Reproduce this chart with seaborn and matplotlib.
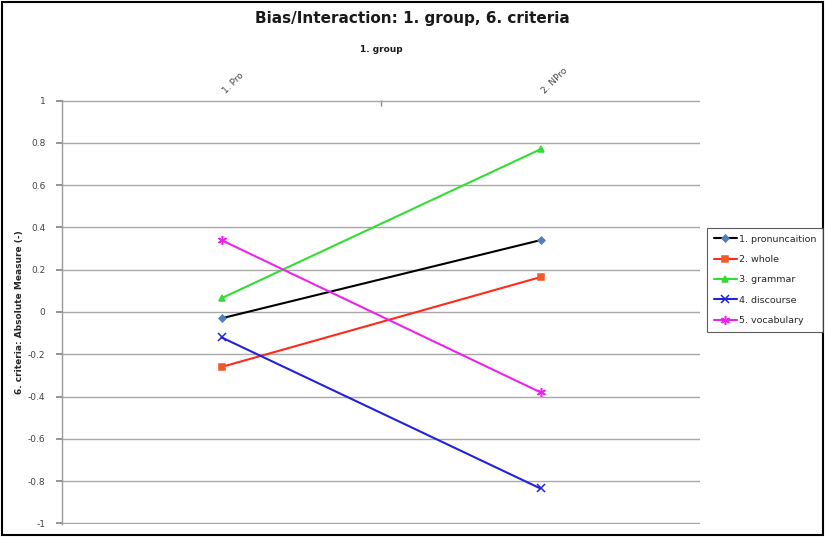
import matplotlib
matplotlib.use("Agg")
import matplotlib.pyplot as plt
import seaborn as sns
import pandas as pd
from matplotlib.patches import Rectangle

# Bias/interaction estimates per rating criterion for each group
groups = ["1. Pro", "2. NPro"]
criteria = ["1. pronuncaition", "2. whole", "3. grammar", "4. discourse", "5. vocabulary"]
pronunciation = [-0.03, 0.34]
whole = [-0.26, 0.165]
grammar = [0.065, 0.77]
discourse = [-0.12, -0.835]
vocabulary = [0.34, -0.38]

series = [pronunciation, whole, grammar, discourse, vocabulary]
rows = []
for name, vals in zip(criteria, series):
    for g, v in zip(groups, vals):
        rows.append({"group": g, "criterion": name, "value": v})
df = pd.DataFrame(rows)

line_colors = ["#000000", "#FF2A1A", "#33DD33", "#2222DD", "#EE22EE"]
marker_faces = ["#4F7FBF", "#F05A28", "#33DD33", "#2222DD", "#EE22EE"]
markers = ["D", "s", "^", "x", (6, 2, 0)]
msizes = [3.5, 5, 5, 6, 6.5]

sns.set_theme(style="white")
plt.rcParams["font.family"] = ["DejaVu Sans"]

fig = plt.figure(figsize=(8.25, 5.37), dpi=100)
ax = fig.add_axes([62 / 825, 1 - 524 / 537, 638 / 825, 424 / 537])

for name, lc, mf, mk, ms in zip(criteria, line_colors, marker_faces, markers, msizes):
    sub = df[df["criterion"] == name]
    sns.lineplot(data=sub, x="group", y="value", ax=ax, color=lc, linewidth=1.5,
                 marker=mk, markersize=ms, markerfacecolor=mf, markeredgecolor=mf,
                 markeredgewidth=1.1, label=name, sort=False)

ax.set_xlim(-0.5, 1.5)
ax.set_ylim(-1.003, 1.003)
ax.set_yticks([-1, -0.8, -0.6, -0.4, -0.2, 0, 0.2, 0.4, 0.6, 0.8, 1])
ax.set_yticklabels(["-1", "-0.8", "-0.6", "-0.4", "-0.2", "0", "0.2", "0.4", "0.6", "0.8", "1"],
                   fontsize=6.5, color="#444444")
ax.yaxis.grid(True, color="#A8A8A8", linewidth=1)
ax.xaxis.grid(False)
ax.set_axisbelow(True)

ax.xaxis.tick_top()
ax.set_xticks([0, 1])
ax.set_xticklabels(groups, rotation=45, ha="left", va="bottom", fontsize=6.5, color="#444444")
ax.set_xticks([0.5], minor=True)
ax.tick_params(axis="x", which="major", length=0, pad=3)
ax.tick_params(axis="x", which="minor", length=4, color="#888888", direction="in", top=True)
ax.tick_params(axis="y", which="major", length=4, color="#888888", left=True, direction="out", pad=8)

ax.set_xlabel("")
ax.set_ylabel("6. criteria: Absolute Measure (-)", fontsize=6.5, fontweight="bold", labelpad=3)

for side in ["top", "right", "bottom"]:
    ax.spines[side].set_visible(False)
ax.spines["left"].set_color("#999999")
ax.spines["left"].set_linewidth(1)

ax.get_legend().remove()
handles, labels = ax.get_legend_handles_labels()
leg = fig.legend(handles, labels, loc="upper left", bbox_to_anchor=(707 / 825, 1 - 228 / 537),
                 fontsize=6.8, frameon=True, fancybox=False, edgecolor="#333333",
                 handlelength=2.5, borderpad=0.7, labelspacing=1.2, handletextpad=0.2,
                 borderaxespad=0.0)
leg.get_frame().set_linewidth(0.8)

fig.text(0.5, 1 - 18 / 537, "Bias/Interaction: 1. group, 6. criteria", ha="center", va="center",
         fontsize=11, fontweight="bold", color="#1a1a1a")
fig.text(381 / 825, 1 - 50 / 537, "1. group", ha="center", va="center",
         fontsize=6.5, fontweight="bold", color="#1a1a1a")

fig.patches.append(Rectangle((0.002, 0.003), 0.996, 0.994, transform=fig.transFigure,
                             fill=False, edgecolor="black", linewidth=1.5))

fig.savefig("out.png", dpi=100)
